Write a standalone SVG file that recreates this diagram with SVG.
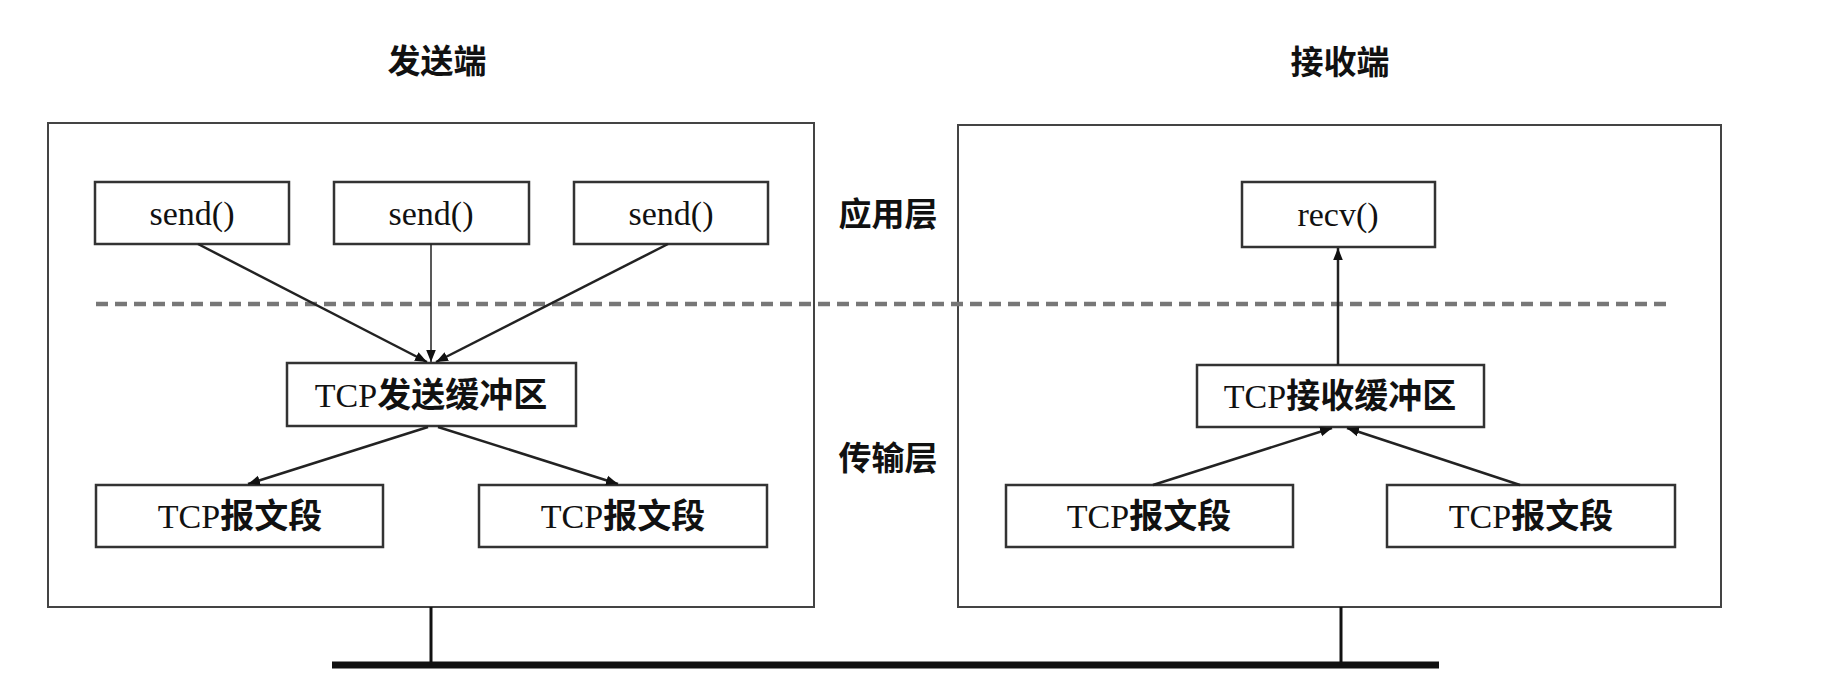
<svg xmlns="http://www.w3.org/2000/svg" width="1828" height="700" viewBox="0 0 1828 700">
<style>
.outer{fill:none;stroke:#444;stroke-width:2}
.box{fill:#fff;stroke:#333;stroke-width:2.5}
.lat{font-family:"Liberation Serif","Noto Sans CJK SC",serif;font-size:34px;fill:#111;text-anchor:middle}
.cjk{font-family:"Noto Sans CJK SC","Liberation Serif",sans-serif;font-weight:700}
.ttl{font-family:"Noto Sans CJK SC",sans-serif;font-weight:700;font-size:33px;fill:#111;text-anchor:middle}
.arr{stroke:#222;stroke-width:2.5;fill:none;marker-end:url(#ah)}
.thin{stroke:#222;stroke-width:1.5;fill:none;marker-end:url(#ah)}
</style>
<defs>
<marker id="ah" viewBox="0 0 10 10" refX="10" refY="5" markerWidth="12" markerHeight="12" markerUnits="userSpaceOnUse" orient="auto">
<path d="M0,1 L10,5 L0,9 Z" fill="#111"/>
</marker>
</defs>
<rect width="1828" height="700" fill="#fff"/>
<g id="titles">
<text class="ttl" x="437" y="73">发送端</text>
<text class="ttl" x="1340" y="74">接收端</text>
<text class="ttl" x="888" y="226">应用层</text>
<text class="ttl" x="888" y="470">传输层</text>
</g>
<g id="sender">
<rect class="outer" x="48" y="123" width="766" height="484"/>
</g>
<g id="receiver">
<rect class="outer" x="958" y="125" width="763" height="482"/>
</g>
<g id="layer-divider">
<line x1="96" y1="304" x2="1670" y2="304" stroke="#777" stroke-width="4.5" stroke-dasharray="12 7"/>
</g>
<g id="send1"><rect class="box" x="95" y="182" width="194" height="62"/><text class="lat" x="192" y="225">send()</text></g>
<g id="send2"><rect class="box" x="334" y="182" width="195" height="62"/><text class="lat" x="431" y="225">send()</text></g>
<g id="send3"><rect class="box" x="574" y="182" width="194" height="62"/><text class="lat" x="671" y="225">send()</text></g>
<g id="send-buffer"><rect class="box" x="287" y="363" width="289" height="63"/><text class="lat" x="431" y="407">TCP<tspan class="cjk">发送缓冲区</tspan></text></g>
<g id="send-seg1"><rect class="box" x="96" y="485" width="287" height="62"/><text class="lat" x="240" y="528">TCP<tspan class="cjk">报文段</tspan></text></g>
<g id="send-seg2"><rect class="box" x="479" y="485" width="288" height="62"/><text class="lat" x="623" y="528">TCP<tspan class="cjk">报文段</tspan></text></g>
<g id="recv"><rect class="box" x="1242" y="182" width="193" height="65"/><text class="lat" x="1338" y="226">recv()</text></g>
<g id="recv-buffer"><rect class="box" x="1197" y="365" width="287" height="62"/><text class="lat" x="1340" y="408">TCP<tspan class="cjk">接收缓冲区</tspan></text></g>
<g id="recv-seg1"><rect class="box" x="1006" y="485" width="287" height="62"/><text class="lat" x="1149" y="528">TCP<tspan class="cjk">报文段</tspan></text></g>
<g id="recv-seg2"><rect class="box" x="1387" y="485" width="288" height="62"/><text class="lat" x="1531" y="528">TCP<tspan class="cjk">报文段</tspan></text></g>
<g id="connectors">
<line class="arr" x1="198" y1="244" x2="427" y2="362"/>
<line class="thin" x1="431" y1="244" x2="431" y2="362"/>
<line class="arr" x1="668" y1="244" x2="436" y2="362"/>
<line class="arr" x1="428" y1="427" x2="248" y2="484"/>
<line class="arr" x1="438" y1="427" x2="618" y2="484"/>
<line class="arr" x1="1338" y1="365" x2="1338" y2="248"/>
<line class="arr" x1="1153" y1="485" x2="1332" y2="428"/>
<line class="arr" x1="1520" y1="485" x2="1347" y2="428"/>
<line x1="431" y1="607" x2="431" y2="665" stroke="#111" stroke-width="3"/>
<line x1="1341" y1="607" x2="1341" y2="665" stroke="#111" stroke-width="3"/>
<line x1="332" y1="665" x2="1439" y2="665" stroke="#111" stroke-width="7"/>
</g>
</svg>
